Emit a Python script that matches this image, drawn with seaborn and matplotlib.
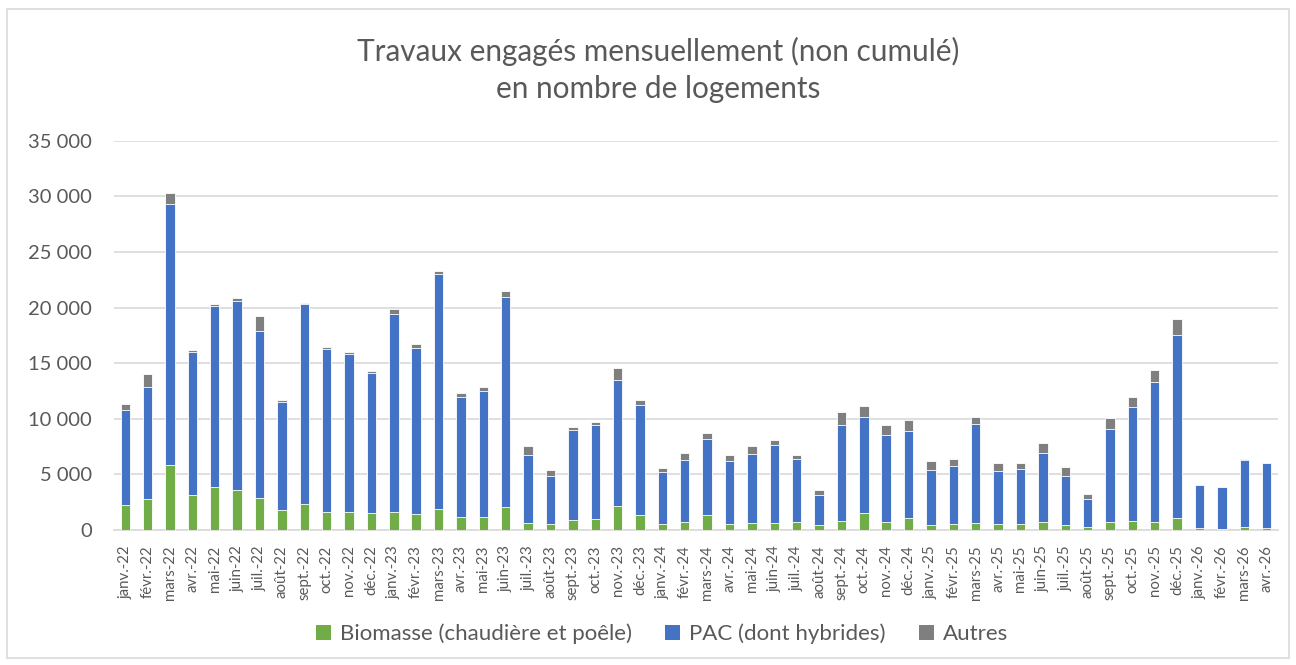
import numpy as np
import pandas as pd
import matplotlib
matplotlib.use('Agg')
import matplotlib.pyplot as plt
from matplotlib.patches import Patch, Rectangle
from matplotlib.ticker import FuncFormatter, FixedLocator
import seaborn as sns

# Monthly works committed (number of dwellings)
months = ['janv.-22', 'févr.-22', 'mars-22', 'avr.-22', 'mai-22', 'juin-22', 'juil.-22', 'août-22',
          'sept.-22', 'oct.-22', 'nov.-22', 'déc.-22',
          'janv.-23', 'févr.-23', 'mars-23', 'avr.-23', 'mai-23', 'juin-23', 'juil.-23', 'août-23',
          'sept.-23', 'oct.-23', 'nov.-23', 'déc.-23',
          'janv.-24', 'févr.-24', 'mars-24', 'avr.-24', 'mai-24', 'juin-24', 'juil.-24', 'août-24',
          'sept.-24', 'oct.-24', 'nov.-24', 'déc.-24',
          'janv.-25', 'févr.-25', 'mars-25', 'avr.-25', 'mai-25', 'juin-25', 'juil.-25', 'août-25',
          'sept.-25', 'oct.-25', 'nov.-25', 'déc.-25',
          'janv.-26', 'févr.-26', 'mars-26', 'avr.-26']

biomasse = [2250, 2780, 5840, 3140, 3890, 3590, 2840, 1770, 2370, 1620, 1650, 1500,
            1620, 1470, 1890, 1140, 1170, 2070, 630, 510, 930, 990, 2130, 1320,
            570, 720, 1320, 510, 630, 660, 690, 450, 810, 1500, 750, 1080,
            420, 510, 630, 540, 510, 690, 420, 270, 750, 840, 720, 1050,
            150, 90, 240, 180]

pac = [8530, 10090, 23440, 12880, 16260, 16980, 15090, 9760, 17930, 14610, 14190, 12630,
       17840, 14910, 21140, 10840, 11350, 18850, 6140, 4370, 8080, 8410, 11310, 9880,
       4670, 5600, 6820, 5720, 6170, 7010, 5660, 2670, 8650, 8680, 7780, 7780,
       4940, 5240, 8860, 4790, 4940, 6200, 4400, 2490, 8350, 10240, 12540, 16500,
       3860, 3740, 6020, 5810]

autres = [540, 1170, 990, 150, 180, 270, 1290, 150, 90, 180, 150, 180,
          450, 330, 210, 330, 300, 540, 810, 510, 240, 300, 1140, 510,
          300, 570, 540, 540, 750, 390, 390, 450, 1140, 930, 900, 1020,
          810, 630, 630, 690, 540, 960, 810, 480, 960, 870, 1080, 1440,
          60, 30, 90, 30]

series_names = ['Biomasse (chaudière et poêle)', 'PAC (dont hybrides)', 'Autres']
colors = ['#70AD47', '#4472C4', '#7F7F7F']
text_color = '#595959'
grid_color = '#D9D9D9'

df = pd.DataFrame({'mois': months, 'biomasse': biomasse, 'pac': pac, 'autres': autres})
df['bio_pac'] = df['biomasse'] + df['pac']
df['total'] = df['bio_pac'] + df['autres']

sns.set_style('white')
plt.rcParams['font.family'] = ['Lato', 'DejaVu Sans']
plt.rcParams['text.color'] = text_color

fig = plt.figure(figsize=(12.96, 6.65), dpi=100)
ax = fig.add_axes([0.088, 0.203, 0.898, 0.5855])

# stacked bars: draw cumulative totals from the top layer down
for col, c in [('total', colors[2]), ('bio_pac', colors[1]), ('biomasse', colors[0])]:
    sns.barplot(data=df, x='mois', y=col, color=c, width=0.42, ax=ax,
                edgecolor='white', linewidth=0.6, saturation=1, zorder=3)

ax.set_ylim(0, 35000)
ax.set_xlim(-0.5, len(months) - 0.5)
ax.set_yticks(np.arange(0, 35001, 5000))
ax.yaxis.set_major_formatter(FuncFormatter(lambda v, p: f'{v:,.0f}'.replace(',', ' ')))
ax.grid(axis='y', color=grid_color, linewidth=1.2, zorder=0)
ax.set_axisbelow(True)
ax.set_xlabel('')
ax.set_ylabel('')

for s in ['top', 'right', 'left']:
    ax.spines[s].set_visible(False)
ax.spines['bottom'].set_color(grid_color)
ax.spines['bottom'].set_linewidth(1.2)

ax.tick_params(axis='y', length=0, labelsize=14.5, labelcolor=text_color, pad=16)
ax.tick_params(axis='x', which='major', length=0, labelsize=10.8, labelcolor=text_color,
               rotation=90, pad=11)
ax.xaxis.set_minor_locator(FixedLocator(np.arange(-0.5, len(months), 1.0)))
ax.tick_params(axis='x', which='minor', length=5, color=grid_color, width=1.2)

fig.text(0.508, 1 - 70 / 665, 'Travaux engagés mensuellement (non cumulé)\nen nombre de logements',
         ha='center', va='center', fontsize=21.4, color=text_color, linespacing=1.36)

handles = [Patch(facecolor=c, edgecolor='none', label=n) for c, n in zip(colors, series_names)]
fig.legend(handles=handles, loc='center', bbox_to_anchor=(662 / 1296, 1 - 634 / 665), ncol=3,
           frameon=False, fontsize=16, handlelength=0.68, handleheight=0.68,
           handletextpad=0.4, columnspacing=1.5, labelcolor=text_color)

# chart area border
fig.patches.append(Rectangle((7 / 1296, 7 / 665), 1 - 14 / 1296, 1 - 16 / 665,
                             transform=fig.transFigure, fill=False,
                             edgecolor=grid_color, linewidth=1.2))

fig.savefig('out.png', dpi=100)
